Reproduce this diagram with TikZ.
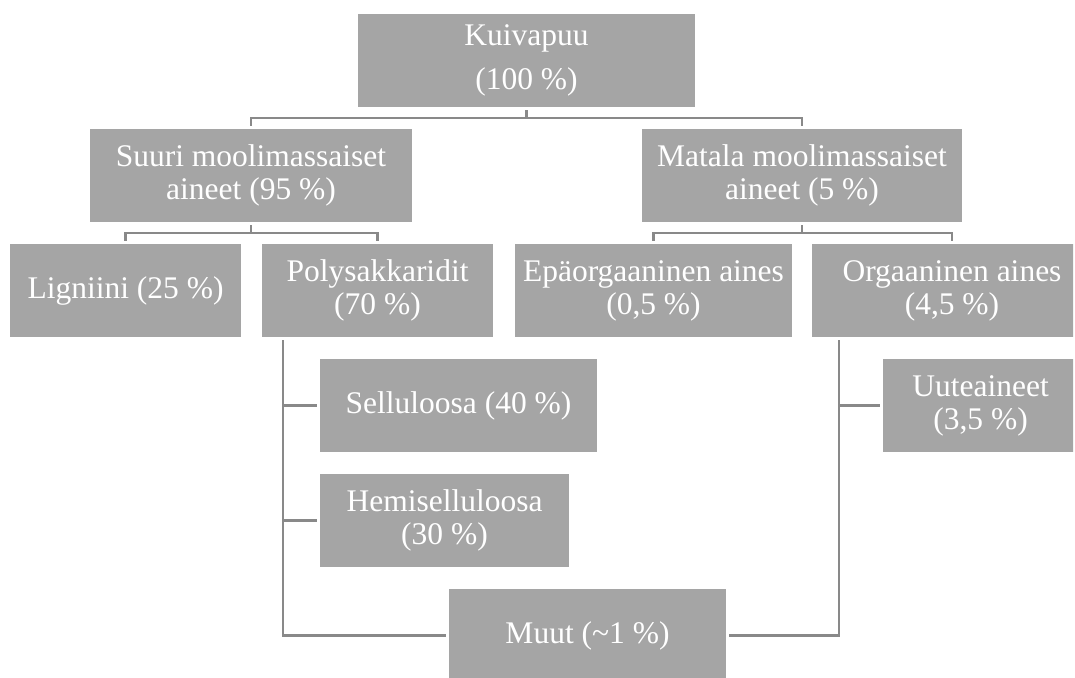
\documentclass[tikz,border=0pt]{standalone}
\usepackage{fontspec}
\setmainfont{Liberation Serif}
\definecolor{boxgray}{HTML}{A5A5A5}
\definecolor{linegray}{HTML}{898989}

\begin{document}
\begin{tikzpicture}[x=1pt,y=-1pt,
    boxnode/.style={rectangle, fill=boxgray, text=white, inner sep=0pt,
        minimum height=93pt, align=center,
        font=\fontsize{31.5}{33}\selectfont},
    link/.style={draw=linegray, line width=2.5pt, shorten <=3pt, shorten >=3pt}]

    \useasboundingbox (0,0) rectangle (1075,677);
    \clip (0,0) rectangle (1073,677);

    % top level
        \node[boxnode, minimum width=337pt] (root) at (526.5,60.5) {Kuivapuu\\[11pt](100 \%)};

    % second level
        \node[boxnode, minimum width=322pt] (suuri) at (251,175.5) {Suuri moolimassaiset\\aineet (95 \%)};
        \node[boxnode, minimum width=320pt] (matala) at (802,175.5) {Matala moolimassaiset\\aineet (5 \%)};

    % third level
        \node[boxnode, minimum width=231pt] (ligniini) at (125.5,290.5) {Ligniini (25 \%)};
        \node[boxnode, minimum width=231pt] (polysak) at (377.5,290.5) {Polysakkaridit\\(70 \%)};
        \node[boxnode, minimum width=277pt] (epaorg) at (653.5,290.5) {Epäorgaaninen aines\\(0,5 \%)};
        \node[boxnode, minimum width=280pt] (orgaan) at (952,290.5) {Orgaaninen aines\\(4,5 \%)};

    % fourth level
        \node[boxnode, minimum width=277pt] (sellu) at (458.5,405.5) {Selluloosa (40 \%)};
        \node[boxnode, minimum width=249pt] (hemi) at (444.5,520.5) {Hemiselluloosa\\(30 \%)};
        \node[boxnode, minimum width=277pt] (muut) at (587.5,635.5) {Muut (\textasciitilde 1 \%)};
        \node[boxnode, minimum width=195pt] (uute) at (980.5,405.5) {Uuteaineet\\(3,5 \%)};

    % connectors
    \draw[link] (root.south) -- ++(0,11) -| (suuri.north);
    \draw[link] (root.south) -- ++(0,11) -| (matala.north);

    \draw[link] (suuri.south) -- ++(0,11) -| (ligniini.north);
    \draw[link] (suuri.south) -- ++(0,11) -| (polysak.north);
    \draw[link] (matala.south) -- ++(0,11) -| (epaorg.north);
    \draw[link] (matala.south) -- ++(0,11) -| (orgaan.north);

    \draw[link] ([xshift=21pt]polysak.south west) |- (sellu.west);
    \draw[link] ([xshift=21pt]polysak.south west) |- (hemi.west);
    \draw[link] ([xshift=21pt]polysak.south west) |- (muut.west);

    \draw[link] ([xshift=27pt]orgaan.south west) |- (uute.west);
    \draw[link] ([xshift=27pt]orgaan.south west) |- (muut.east);

\end{tikzpicture}
\end{document}
